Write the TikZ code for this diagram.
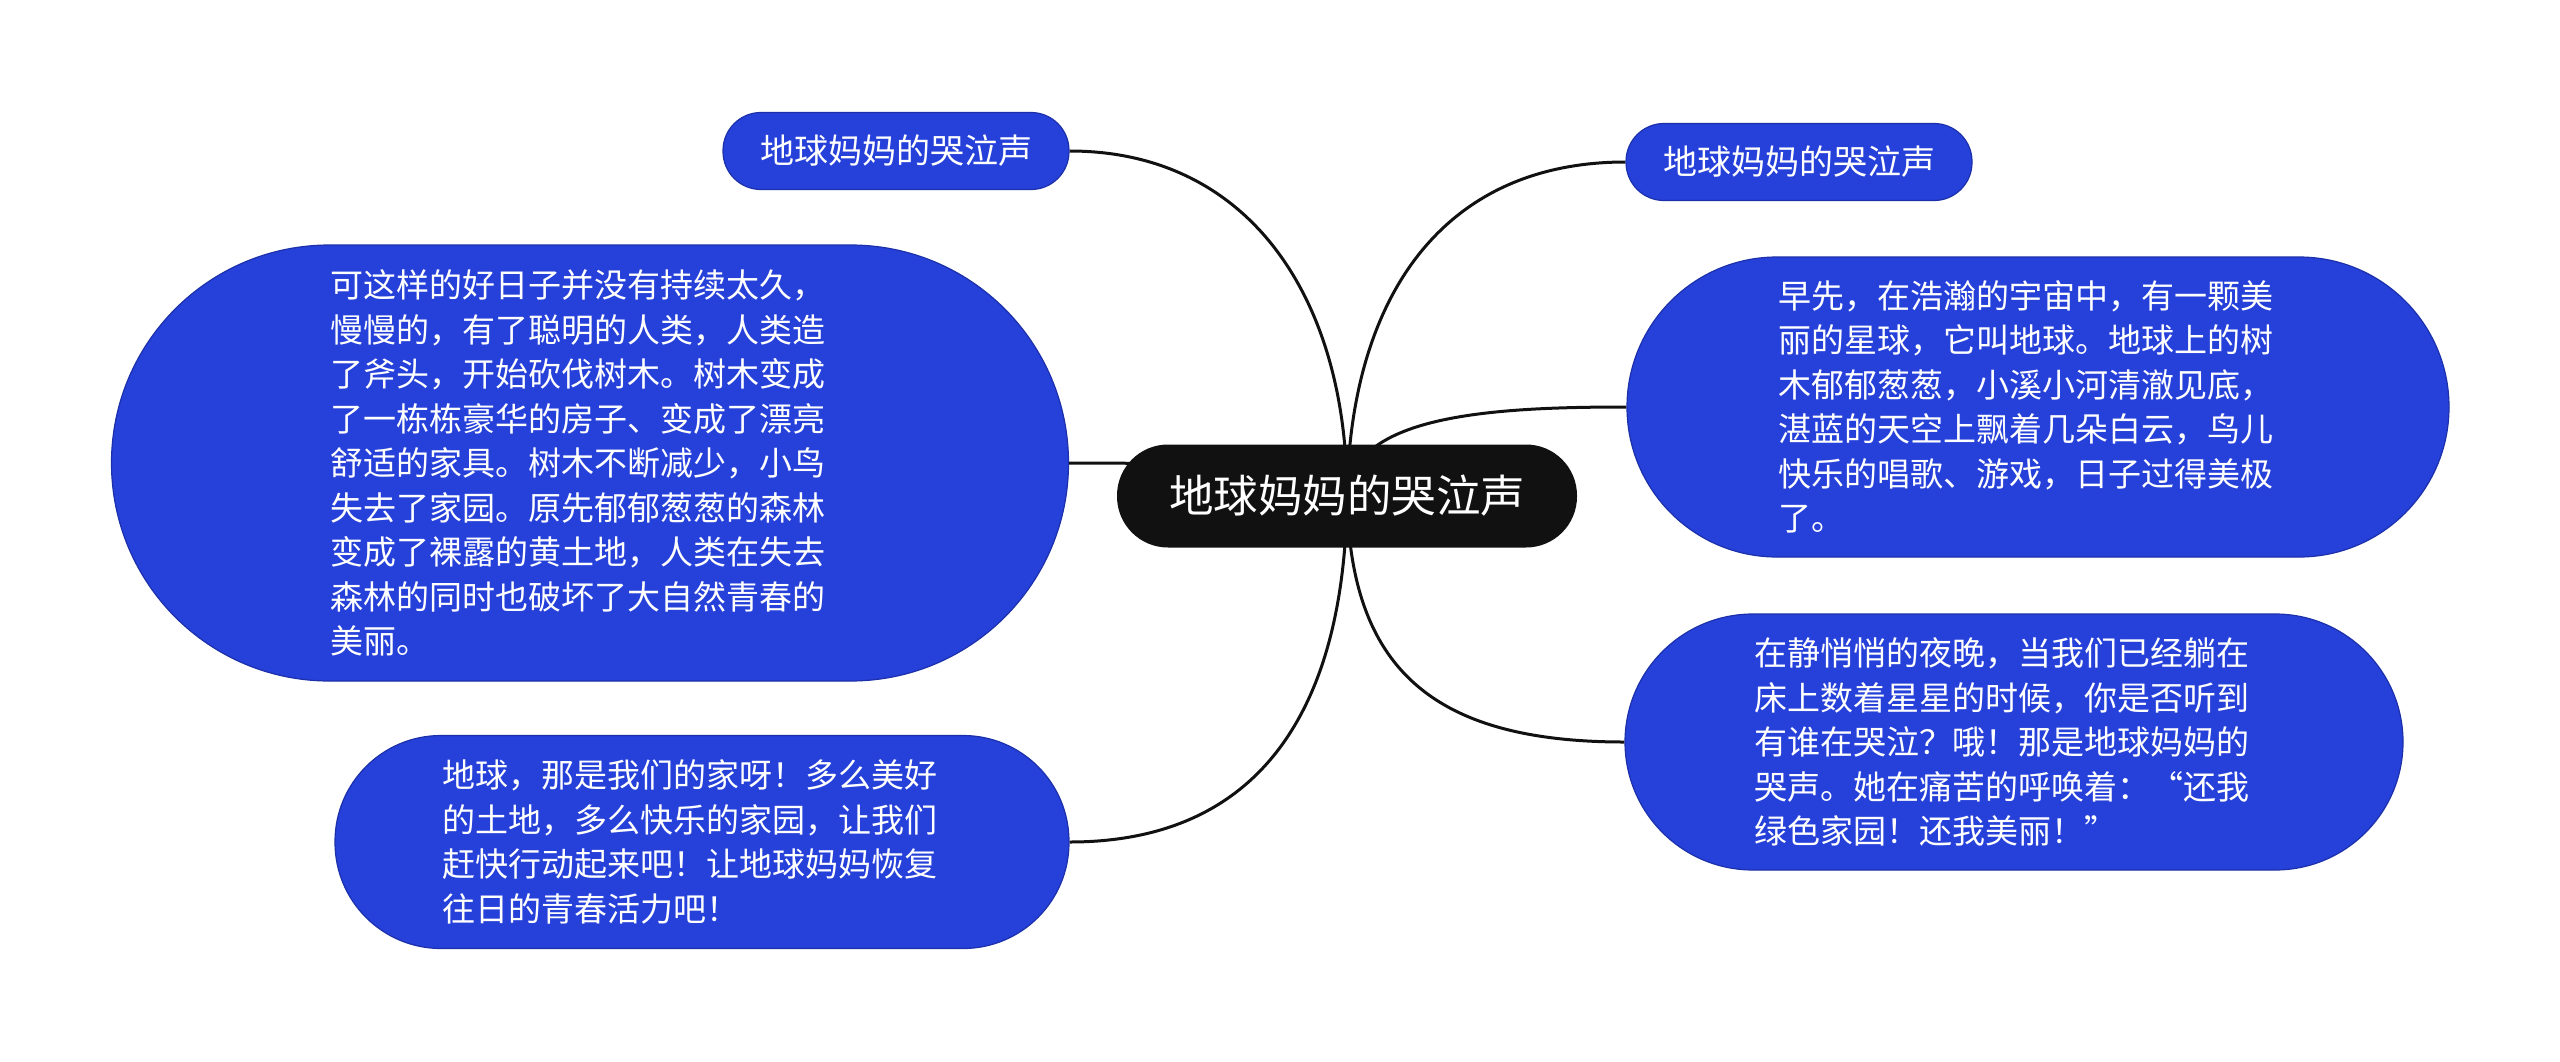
\documentclass[tikz,border=0pt]{standalone}
\usepackage{fontspec}
\newfontfamily\cjk{Noto Sans CJK SC}
\usetikzlibrary{backgrounds}
\definecolor{nodeblue}{RGB}{38,64,218}
\definecolor{nodeedge}{RGB}{28,48,170}
\definecolor{rootblack}{RGB}{17,17,17}
\tikzset{
  base/.style={text=white, inner sep=0pt},
  rootbox/.style={base, fill=rootblack, rounded corners=51pt, minimum width=460pt, minimum height=103pt, font=\cjk\fontsize{44.5}{54}\selectfont},
  subbox/.style={base, fill=nodeblue, draw=nodeedge, line width=1.2pt, rounded corners=38pt, minimum width=346pt, minimum height=77pt, font=\cjk\fontsize{34}{42}\selectfont},
  textbox/.style={base, fill=nodeblue, draw=nodeedge, line width=1.2pt, text width=520pt, align=left, font=\cjk\fontsize{33}{44.5}\selectfont},
  link/.style={draw=rootblack, line width=3pt},
}
\begin{document}
\begin{tikzpicture}[x=1pt, y=-1pt]
\useasboundingbox (0,0) rectangle (2560,1061);

\node[rootbox] (root) at (1347,496) {地球妈妈的哭泣声};

\node[subbox] (tl) at (896,151) {地球妈妈的哭泣声};
\node[subbox] (tr) at (1799,162) {地球妈妈的哭泣声};

\node[textbox, minimum width=957pt, minimum height=436pt, rounded corners=218pt] (lb) at (590,463)
  {可这样的好日子并没有持续太久，\\慢慢的，有了聪明的人类，人类造\\了斧头，开始砍伐树木。树木变成\\了一栋栋豪华的房子、变成了漂亮\\舒适的家具。树木不断减少，小鸟\\失去了家园。原先郁郁葱葱的森林\\变成了裸露的黄土地，人类在失去\\森林的同时也破坏了大自然青春的\\美丽。};

\node[textbox, minimum width=822pt, minimum height=300pt, rounded corners=150pt] (rt) at (2038,407)
  {早先，在浩瀚的宇宙中，有一颗美\\丽的星球，它叫地球。地球上的树\\木郁郁葱葱，小溪小河清澈见底，\\湛蓝的天空上飘着几朵白云，鸟儿\\快乐的唱歌、游戏，日子过得美极\\了。};

\node[textbox, minimum width=778pt, minimum height=256pt, rounded corners=128pt] (rb) at (2014,742)
  {在静悄悄的夜晚，当我们已经躺在\\床上数着星星的时候，你是否听到\\有谁在哭泣？哦！那是地球妈妈的\\哭声。她在痛苦的呼唤着：“还我\\绿色家园！还我美丽！”};

\node[textbox, minimum width=734pt, minimum height=213pt, rounded corners=106pt] (bl) at (702,842)
  {地球，那是我们的家呀！多么美好\\的土地，多么快乐的家园，让我们\\赶快行动起来吧！让地球妈妈恢复\\往日的青春活力吧！};

\begin{scope}[on background layer]
  \fill[white] (0,0) rectangle (2560,1061);
  \draw[link] (tl.east) .. controls +(181,0) and +(0,-196) .. (root.center);
  \draw[link] (tr.west) .. controls +(-185,0) and +(3,-196) .. (root.center);
  \draw[link] (lb.east) .. controls +(150,0) and +(-100,-30) .. (root.center);
  \draw[link] (rt.west) .. controls +(-140,0) and +(5,-80) .. (root.center);
  \draw[link] (bl.east) .. controls +(200,0) and +(-2,200) .. (root.center);
  \draw[link] (rb.west) .. controls +(-195,0) and +(3,170) .. (root.center);
\end{scope}
\end{tikzpicture}
\end{document}
